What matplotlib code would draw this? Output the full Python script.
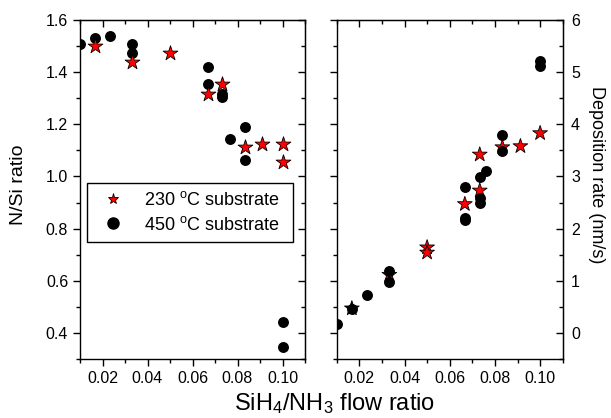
import numpy as np
import matplotlib
matplotlib.use('Agg')
import matplotlib.pyplot as plt
from matplotlib.ticker import MultipleLocator
from matplotlib.lines import Line2D

plt.rcParams['font.family'] = ['Liberation Sans', 'DejaVu Sans']
plt.rcParams['mathtext.default'] = 'regular'

# N/Si ratio (left panel)
nsi_230_x = [0.0167, 0.0333, 0.05, 0.0667, 0.0733, 0.0833, 0.0909, 0.10, 0.10]
nsi_230_y = [1.501, 1.438, 1.472, 1.318, 1.354, 1.113, 1.123, 1.123, 1.055]
nsi_450_x = [0.01, 0.0167, 0.0234, 0.0333, 0.0333, 0.0667, 0.0667, 0.0733, 0.0733,
             0.0768, 0.0833, 0.0833, 0.10, 0.10]
nsi_450_y = [1.507, 1.530, 1.538, 1.507, 1.472, 1.419, 1.354, 1.316, 1.306,
             1.145, 1.188, 1.065, 0.443, 0.346]

# deposition rate (right panel)
dep_230_x = [0.0167, 0.0333, 0.05, 0.05, 0.0667, 0.0733, 0.0733, 0.0833, 0.0913, 0.10]
dep_230_y = [0.47, 1.115, 1.64, 1.54, 2.47, 2.73, 3.42, 3.56, 3.58, 3.83]
dep_450_x = [0.01, 0.0167, 0.0233, 0.0333, 0.0333, 0.0667, 0.0667, 0.0667, 0.0733,
             0.0733, 0.0733, 0.076, 0.0833, 0.0833, 0.10, 0.10]
dep_450_y = [0.18, 0.467, 0.73, 1.19, 0.97, 2.20, 2.16, 2.79, 2.59,
             2.49, 2.99, 3.10, 3.80, 3.48, 5.21, 5.115]

xticks = [0.02, 0.04, 0.06, 0.08, 0.10]
nsi_ticks = [0.4, 0.6, 0.8, 1.0, 1.2, 1.4, 1.6]
dep_ticks = [0, 1, 2, 3, 4, 5, 6]

fig = plt.figure(figsize=(6.11, 4.18), dpi=100)
ax1 = fig.add_axes([80/611, 59/418, 225/611, 339/418])
ax2 = fig.add_axes([336.7/611, 59/418, 226/611, 339/418])

star = dict(marker='*', s=125, edgecolors='k', linewidths=0.6)
dot = dict(marker='o', s=62, color='k', linewidths=0)

ax1.scatter(nsi_450_x, nsi_450_y, zorder=2, **dot)
ax1.scatter(nsi_230_x, nsi_230_y, facecolors='red', zorder=3, **star)

fc = ['red'] * len(dep_230_x)
fc[0] = 'black'
ax2.scatter(dep_230_x, dep_230_y, facecolors=fc, zorder=2, **star)
ax2.scatter(dep_450_x, dep_450_y, zorder=3, **dot)


def tick_len(a):
    a.tick_params(which='major', length=5, width=1)
    a.tick_params(which='minor', length=3, width=1)


for ax in (ax1, ax2):
    ax.set_xlim(0.01, 0.11)
    ax.set_xticks(xticks)
    ax.set_xticklabels(['%.2f' % t for t in xticks])
    ax.xaxis.set_minor_locator(MultipleLocator(0.01))
    ax.tick_params(which='both', direction='out', labelsize=11.5, top=False, right=False)
    tick_len(ax)
    for sp in ax.spines.values():
        sp.set_linewidth(1)
    top = ax.secondary_xaxis('top')
    top.set_xticks(xticks)
    top.xaxis.set_minor_locator(MultipleLocator(0.01))
    top.tick_params(which='both', direction='in', labeltop=False)
    tick_len(top)

ax1.set_ylim(0.3, 1.6)
ax1.set_yticks(nsi_ticks)
ax1.yaxis.set_minor_locator(MultipleLocator(0.1))
ax1.set_ylabel('N/Si ratio', fontsize=14, va='center')
ax1.yaxis.set_label_coords((19 - 80) / 225, (359 - 185) / 339)
r1 = ax1.secondary_yaxis('right')
r1.set_yticks(nsi_ticks)
r1.yaxis.set_minor_locator(MultipleLocator(0.1))
r1.tick_params(which='both', direction='in', labelright=False)
tick_len(r1)

ax2.set_ylim(-0.5, 6)
ax2.set_yticks(dep_ticks)
ax2.yaxis.set_minor_locator(MultipleLocator(0.5))
ax2.tick_params(labelleft=False)
r2 = ax2.secondary_yaxis('right')
r2.set_yticks(dep_ticks)
r2.yaxis.set_minor_locator(MultipleLocator(0.5))
r2.tick_params(which='both', direction='in', labelsize=11.5, pad=6)
tick_len(r2)

handles = [
    Line2D([], [], ls='none', marker='*', ms=8, mfc='red', mec='k', mew=0.6),
    Line2D([], [], ls='none', marker='o', ms=8, mfc='k', mec='k'),
]
leg = ax1.legend(handles, ['230 $^o$C substrate', '450 $^o$C substrate'],
                 loc='upper left', bbox_to_anchor=(0.031, 0.327, 0.916, 0.192),
                 mode='expand', borderaxespad=0, fontsize=13, frameon=True,
                 fancybox=False, edgecolor='k', framealpha=1, handlelength=2,
                 handletextpad=0.7, borderpad=0.45, labelspacing=0.35)
leg.get_frame().set_linewidth(1)

fig.text(597 / 611, 1 - 175 / 418, 'Deposition rate (nm/s)', fontsize=13,
         rotation=270, ha='center', va='center')
fig.text(335 / 611, 1 - 410 / 418, 'SiH$_4$/NH$_3$ flow ratio', fontsize=17,
         ha='center', va='baseline')

fig.savefig('out.png', dpi=100)
